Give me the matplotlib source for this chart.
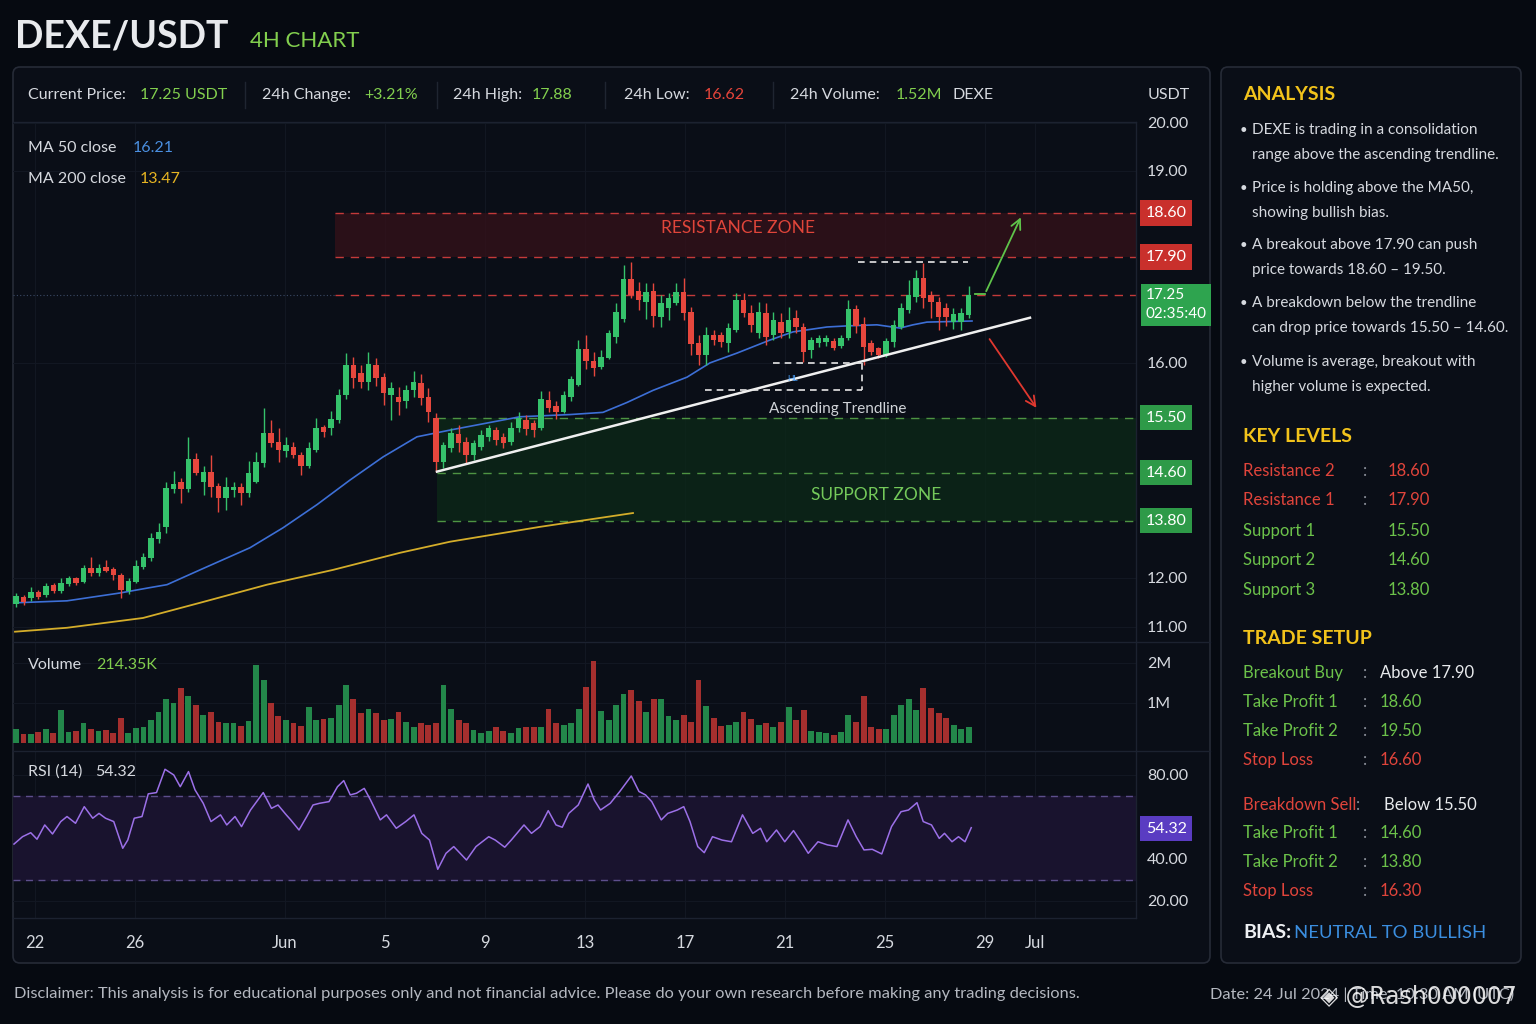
import numpy as np
import matplotlib
matplotlib.use("Agg")
import matplotlib.pyplot as plt
from matplotlib.patches import FancyBboxPatch
from matplotlib.lines import Line2D
from matplotlib.ticker import FixedLocator, NullLocator, FuncFormatter

plt.rcParams['font.family'] = ['Lato', 'DejaVu Sans']

# ------------------------------------------------------------------ data
# OHLC of the 4H candles
opens = [11.47, 11.61, 11.59, 11.71, 11.65, 11.86, 11.73, 11.88, 12.00, 11.92,
         12.32, 12.16, 12.35, 12.28, 12.10, 11.73, 11.92, 12.35, 12.63, 13.23,
         13.61, 14.33, 14.45, 14.33, 14.83, 14.45, 14.62, 14.38, 14.18, 14.32,
         14.37, 14.27, 14.45, 14.76, 15.25, 15.11, 14.96, 15.03, 14.89, 14.71,
         14.98, 15.35, 15.34, 15.47, 15.71, 15.98, 15.91, 15.83, 15.98, 15.87,
         15.71, 15.69, 15.65, 15.75, 15.82, 15.69, 15.50, 14.78, 15.01, 15.24,
         15.11, 14.89, 15.03, 15.19, 15.30, 15.19, 15.11, 15.34, 15.47, 15.42,
         15.34, 15.66, 15.61, 15.55, 15.69, 15.80, 16.26, 16.04, 15.96, 16.09,
         16.48, 16.81, 17.52, 17.32, 17.12, 17.32, 16.85, 17.01, 17.10, 17.30,
         16.94, 16.37, 16.15, 16.51, 16.51, 16.37, 16.61, 17.16, 16.92, 16.55,
         16.92, 16.51, 16.75, 16.57, 16.83, 16.66, 16.24, 16.37, 16.38, 16.40,
         16.31, 16.46, 16.99, 16.72, 16.37, 16.28, 16.15, 16.39, 16.66, 16.97,
         17.21, 17.54, 17.25, 17.12, 17.01, 16.75, 16.75, 16.88]
highs = [11.69, 11.65, 11.82, 11.76, 11.90, 11.90, 12.00, 12.06, 12.03, 12.41,
         12.66, 12.44, 12.57, 12.35, 12.16, 12.00, 12.57, 12.79, 13.42, 13.74,
         14.45, 14.63, 14.52, 15.19, 14.93, 14.71, 14.89, 14.43, 14.53, 14.45,
         14.43, 14.80, 14.94, 15.59, 15.47, 15.34, 15.19, 15.11, 14.94, 15.11,
         15.50, 15.39, 15.56, 15.76, 16.18, 16.11, 15.98, 16.20, 16.09, 15.91,
         15.83, 15.78, 15.80, 15.93, 15.90, 15.77, 15.54, 15.11, 15.34, 15.39,
         15.19, 15.14, 15.30, 15.39, 15.35, 15.25, 15.43, 15.55, 15.53, 15.47,
         15.74, 15.74, 15.65, 15.74, 15.88, 16.42, 16.51, 16.20, 16.24, 16.61,
         17.10, 17.76, 17.81, 17.47, 17.45, 17.45, 17.25, 17.28, 17.45, 17.54,
         17.03, 16.51, 16.66, 16.61, 16.57, 16.74, 17.28, 17.28, 17.07, 17.12,
         17.10, 16.94, 16.92, 17.03, 16.97, 16.74, 16.48, 16.51, 16.51, 16.46,
         16.51, 17.16, 17.07, 16.85, 16.42, 16.29, 16.46, 16.79, 17.10, 17.51,
         17.68, 17.80, 17.32, 17.21, 17.10, 17.01, 17.01, 17.40]
lows = [11.41, 11.45, 11.53, 11.57, 11.61, 11.69, 11.69, 11.84, 11.86, 11.90,
        12.06, 12.06, 12.19, 11.96, 11.59, 11.67, 11.90, 12.28, 12.54, 13.11,
        13.42, 14.27, 14.10, 14.28, 14.57, 14.23, 14.20, 13.95, 13.98, 14.20,
        14.07, 14.20, 14.43, 14.70, 15.03, 14.78, 14.86, 14.85, 14.57, 14.68,
        14.94, 15.19, 15.22, 15.42, 15.67, 15.77, 15.77, 15.75, 15.79, 15.62,
        15.47, 15.53, 15.59, 15.69, 15.62, 15.43, 14.62, 14.68, 14.94, 14.94,
        14.76, 14.81, 14.98, 15.12, 15.06, 15.01, 15.06, 15.27, 15.22, 15.19,
        15.30, 15.55, 15.48, 15.54, 15.65, 15.79, 15.94, 15.88, 15.94, 16.08,
        16.37, 16.75, 17.19, 16.97, 16.81, 16.66, 16.66, 16.79, 17.07, 16.79,
        16.15, 15.98, 15.98, 16.33, 16.29, 16.20, 16.57, 16.85, 16.57, 16.46,
        16.33, 16.42, 16.46, 16.46, 16.55, 16.02, 16.09, 16.29, 16.31, 16.24,
        16.28, 16.42, 16.55, 15.98, 16.15, 16.09, 16.11, 16.29, 16.63, 16.92,
        17.12, 17.01, 16.83, 16.61, 16.68, 16.63, 16.61, 16.83]
closes = [11.63, 11.51, 11.71, 11.61, 11.84, 11.73, 11.90, 12.00, 11.90, 12.32,
          12.16, 12.32, 12.22, 12.10, 11.76, 11.94, 12.38, 12.66, 13.26, 13.45,
          14.35, 14.42, 14.33, 14.83, 14.60, 14.62, 14.37, 14.18, 14.37, 14.37,
          14.27, 14.60, 14.78, 15.25, 15.09, 14.98, 15.06, 14.89, 14.71, 15.01,
          15.34, 15.27, 15.48, 15.71, 15.98, 15.86, 15.83, 15.99, 15.86, 15.73,
          15.77, 15.64, 15.75, 15.83, 15.68, 15.55, 14.78, 15.06, 15.25, 15.09,
          14.89, 15.09, 15.22, 15.34, 15.14, 15.09, 15.34, 15.50, 15.32, 15.30,
          15.67, 15.59, 15.55, 15.71, 15.85, 16.26, 16.04, 15.95, 16.11, 16.55,
          16.94, 17.52, 17.25, 17.16, 17.30, 16.86, 17.10, 17.19, 17.30, 16.92,
          16.35, 16.15, 16.51, 16.42, 16.39, 16.64, 17.16, 16.92, 16.70, 16.94,
          16.48, 16.79, 16.55, 16.79, 16.66, 16.20, 16.42, 16.46, 16.46, 16.28,
          16.46, 16.99, 16.68, 16.29, 16.20, 16.15, 16.40, 16.70, 17.01, 17.25,
          17.54, 17.19, 17.12, 16.85, 16.85, 16.90, 16.92, 17.25]
# volume per candle, millions of DEXE
volumes_m = [0.34, 0.23, 0.23, 0.28, 0.34, 0.26, 0.83, 0.28, 0.31, 0.51,
             0.34, 0.31, 0.33, 0.26, 0.63, 0.26, 0.37, 0.39, 0.58, 0.78,
             1.11, 0.99, 1.37, 1.18, 0.95, 0.70, 0.77, 0.53, 0.49, 0.49,
             0.43, 0.56, 1.95, 1.58, 1.01, 0.68, 0.58, 0.51, 0.43, 0.89,
             0.58, 0.59, 0.62, 0.95, 1.45, 1.09, 0.74, 0.84, 0.74, 0.58,
             0.60, 0.78, 0.53, 0.39, 0.49, 0.45, 0.51, 1.45, 0.84, 0.58,
             0.49, 0.33, 0.26, 0.31, 0.39, 0.31, 0.26, 0.37, 0.39, 0.41,
             0.39, 0.85, 0.51, 0.45, 0.51, 0.84, 1.39, 2.06, 0.80, 0.58,
             0.95, 1.23, 1.33, 1.05, 0.78, 1.09, 1.09, 0.68, 0.58, 0.70,
             0.53, 1.58, 0.93, 0.62, 0.43, 0.45, 0.53, 0.78, 0.59, 0.45,
             0.51, 0.39, 0.53, 0.89, 0.58, 0.83, 0.31, 0.28, 0.24, 0.20,
             0.28, 0.70, 0.53, 1.18, 0.41, 0.34, 0.34, 0.70, 0.95, 1.09,
             0.83, 1.37, 0.87, 0.74, 0.62, 0.45, 0.34, 0.41]
first_candle_day = 21.24      # day numbering counted from 1 May (32 = 1 Jun)
candle_step_days = 0.30

ma50_days = [21.2, 23.28, 25.4, 26.6, 27.28, 28.6, 30.6, 31.92, 33.28, 34.6, 35.92,
             37.28, 38.6, 41.4, 43.4, 44.72, 45.68, 46.72, 48.08, 49.0, 50.08,
             51.4, 52.32, 53.68, 54.48, 55.68, 56.6, 57.12, 57.68, 59.48]
ma50_vals = [11.49, 11.53, 11.69, 11.80, 11.86, 12.25, 12.95, 13.58, 14.07, 14.48, 14.86,
             15.19, 15.30, 15.51, 15.53, 15.55, 15.64, 15.75, 15.87, 16.00, 16.18,
             16.42, 16.57, 16.66, 16.68, 16.70, 16.64, 16.70, 16.75, 16.77]
ma200_days = [21.2, 23.28, 26.32, 28.6, 31.28, 33.92, 36.6, 38.6, 42.2, 45.92]
ma200_vals = [10.90, 10.98, 11.18, 11.49, 11.86, 12.25, 12.79, 13.14, 13.61, 13.93]

rsi_days = [21.16, 21.50, 21.83, 22.08, 22.39, 22.70, 23.03, 23.28, 23.62, 23.97,
            24.31, 24.56, 24.82, 25.15, 25.51, 25.71, 25.97, 26.28, 26.53, 26.86,
            27.20, 27.55, 27.81, 28.14, 28.40, 28.73, 29.04, 29.42, 29.67, 30.00,
            30.26, 30.62, 31.13, 31.46, 31.72, 32.05, 32.23, 32.56, 32.87, 33.12,
            33.38, 33.76, 34.10, 34.35, 34.61, 34.86, 35.17, 35.42, 35.81, 36.06,
            36.45, 36.83, 37.16, 37.47, 37.78, 38.11, 38.44, 38.75, 39.26, 39.64,
            40.15, 40.41, 40.79, 41.05, 41.56, 41.86, 42.20, 42.53, 42.84, 43.09,
            43.35, 43.73, 44.12, 44.37, 44.62, 45.01, 45.39, 45.85, 46.16, 46.42,
            46.67, 47.05, 47.31, 47.69, 47.95, 48.20, 48.51, 48.77, 49.10, 49.48,
            49.86, 50.30, 50.71, 51.02, 51.27, 51.66, 51.99, 52.34, 52.68, 52.93,
            53.32, 53.70, 54.08, 54.52, 54.85, 55.16, 55.49, 55.87, 56.26, 56.64,
            56.94, 57.28, 57.53, 57.86, 58.17, 58.38, 58.68, 58.94, 59.20, 59.45]
rsi_vals = [47.1, 50.6, 52.5, 49.4, 56.2, 51.9, 57.8, 60.2, 57.0, 64.9,
            59.4, 61.7, 59.4, 57.8, 45.1, 49.0, 59.4, 60.2, 71.0, 71.6,
            82.7, 80.0, 74.4, 81.6, 72.9, 66.5, 57.8, 61.0, 56.2, 60.2,
            55.4, 63.3, 71.6, 64.1, 65.7, 61.0, 58.6, 53.8, 60.2, 65.7,
            66.5, 67.3, 74.4, 77.3, 70.5, 71.3, 73.6, 68.1, 58.6, 61.0,
            54.6, 57.8, 61.0, 52.2, 49.0, 35.1, 42.7, 45.9, 39.5, 45.9,
            50.6, 49.0, 45.6, 49.0, 56.2, 52.2, 55.4, 63.0, 56.2, 55.1,
            61.7, 65.7, 75.7, 68.1, 63.3, 66.5, 72.1, 79.5, 72.1, 70.5,
            67.3, 58.6, 61.7, 63.3, 64.9, 57.8, 45.9, 43.0, 50.6, 49.0,
            48.2, 61.0, 52.2, 54.6, 48.2, 53.8, 48.2, 53.5, 47.5, 42.7,
            48.2, 46.7, 45.9, 58.6, 50.6, 44.3, 44.6, 42.4, 55.4, 62.5,
            63.3, 66.8, 57.8, 56.2, 49.8, 52.2, 48.2, 50.6, 48.2, 54.9]

date_tick_days = [22, 26, 32, 36, 40, 44, 48, 52, 56, 60, 62]
date_tick_labels = ['22', '26', 'Jun', '5', '9', '13', '17', '21', '25', '29', 'Jul']

price_ticks = [20.0, 19.0, 16.0, 12.0, 11.0]
rsi_ticks = [20, 40, 80]
# the reference's price axis is not uniform: labelled prices and their rows
axis_prices = [5.0, 11.0, 12.0, 13.8, 14.6, 15.5, 16.0, 17.25, 17.9, 18.6, 19.0, 20.0, 30.0]
axis_rows = [921, 627, 578, 521, 473, 418, 363, 295, 257, 213, 171, 123, -357]

resistance_levels = [18.60, 17.90]
support_levels = [15.50, 14.60, 13.80]
current_price = 17.25
resistance_zone_start = 34.0
support_zone_start = 38.08
trend_days = [38.08, 61.8]
trend_prices = [14.62, 16.83]
range_top_days = [54.92, 59.32]
range_top_price = 17.81
range_low_days = [48.8, 55.08]
range_low_prices = [16.0, 15.75]
bull_path_days = [59.6, 60.0, 61.48]
bull_path_prices = [17.27, 17.27, 18.57]
bear_path_days = [60.12, 62.12]
bear_path_prices = [16.48, 15.57]
rsi_now = 54.32

# ------------------------------------------------------------------ style
W, H = 1536, 1024
BG = '#060a11'
PANEL = '#0a0e17'
EDGE = '#262b37'
TXT = '#d6d9df'
GREEN_T = '#82cf4e'
RED_T = '#e5443a'
UP = '#35c26b'
DOWN = '#e6473d'
GRID = '#121722'

fig = plt.figure(figsize=(W / 100, H / 100), dpi=100, facecolor=BG)


def T(px, py, s, color=TXT, size=11.5, weight='normal', ha='left', va='center', **kw):
    return fig.text(px / W, 1 - py / H, s, color=color, fontsize=size,
                    fontweight=weight, ha=ha, va=va, **kw)


def fline(x0, y0, x1, y1, color='#1c2230', lw=1.0):
    fig.add_artist(Line2D([x0 / W, x1 / W], [1 - y0 / H, 1 - y1 / H],
                          transform=fig.transFigure, color=color, lw=lw))


for (px0, px1) in [(13, 1210), (1221, 1521)]:
    p = FancyBboxPatch((px0 / 100, (H - 963) / 100), (px1 - px0) / 100, (963 - 67) / 100,
                       boxstyle='round,pad=0,rounding_size=0.07',
                       transform=fig.dpi_scale_trans, fc=PANEL, ec=EDGE, lw=1.2, zorder=-10)
    fig.add_artist(p)

L, R = 13, 1136


def add_ax(top, bottom):
    ax = fig.add_axes([L / W, 1 - bottom / H, (R - L) / W, (bottom - top) / H])
    ax.set_facecolor('none')
    for s in ax.spines.values():
        s.set_visible(False)
    return ax


ax = add_ax(122, 641)
axv = add_ax(643, 750)
axr = add_ax(751, 918)

xmin, xmax = 21.12, 66.04
for a in (ax, axv, axr):
    a.set_xlim(xmin, xmax)
    a.set_xticks(date_tick_days)
    a.grid(True, color=GRID, lw=0.8)
    a.tick_params(axis='both', length=0, labelcolor=TXT, labelsize=11.5)
    a.yaxis.tick_right()
    a.set_axisbelow(True)
ax.set_xticklabels([])
axv.set_xticklabels([])
axr.set_xticklabels(date_tick_labels)
axr.tick_params(axis='x', pad=12, labelsize=12)

# ---------------- price panel
fwd = lambda p: -np.interp(p, axis_prices, axis_rows)
inv = lambda v: np.interp(-np.asarray(v), axis_rows[::-1], axis_prices[::-1])
ax.set_yscale('function', functions=(fwd, inv))
ax.set_ylim(10.71, 20.02)
ax.yaxis.set_major_locator(FixedLocator(price_ticks))
ax.yaxis.set_minor_locator(NullLocator())
ax.yaxis.set_major_formatter(FuncFormatter(lambda v, _: f'{v:.2f}'))
ax.tick_params(axis='y', pad=8)

o = np.array(opens); h = np.array(highs); lo = np.array(lows); c = np.array(closes)
days = first_candle_day + candle_step_days * np.arange(len(o))
up = c >= o
cols = np.where(up, UP, DOWN)

# zones
ax.fill_between([resistance_zone_start, xmax], resistance_levels[1], resistance_levels[0],
                color='#351119', alpha=0.75, lw=0, zorder=1)
ax.fill_between([support_zone_start, xmax], support_levels[2], support_levels[0],
                color='#0c2a18', alpha=0.72, lw=0, zorder=1)
for lvl in resistance_levels:
    ax.plot([resistance_zone_start, xmax], [lvl, lvl], color='#c43a3a', lw=1.0,
            ls=(0, (6, 5)), zorder=2)
ax.plot([resistance_zone_start, xmax], [current_price] * 2, color='#c43a3a', lw=1.0,
        ls=(0, (6, 5)), zorder=2)
ax.plot([xmin, resistance_zone_start], [current_price] * 2, color='#3b4a66', lw=0.8,
        ls=(0, (1, 2)), zorder=2)
for lvl in support_levels:
    ax.plot([support_zone_start, xmax], [lvl, lvl], color='#4e9443', lw=1.0,
            ls=(0, (6, 5)), zorder=2)

# moving averages
ax.plot(ma200_days, ma200_vals, color='#d4ad2a', lw=1.3, zorder=3)
ax.plot(ma50_days, ma50_vals, color='#3d6fd6', lw=1.2, zorder=3)

# candles
ax.vlines(days, lo, h, colors=cols, lw=1.0, zorder=4)
ax.bar(days, np.maximum(np.abs(c - o), 0.02), bottom=np.minimum(o, c), width=0.22,
       color=cols, zorder=5, lw=0)

# trendline & annotations
ax.plot(trend_days, trend_prices, color='#f0f0f0', lw=1.8, zorder=6)
dash = dict(color='#e6e6e6', lw=1.2, ls=(0, (4, 3)), zorder=6)
ax.plot(range_top_days, [range_top_price] * 2, **dash)
ax.plot([range_low_days[0] + 2.7, range_low_days[1]], [range_low_prices[0]] * 2, **dash)
ax.plot(range_low_days, [range_low_prices[1]] * 2, **dash)
ax.plot([range_low_days[1]] * 2, range_low_prices, **dash)
ax.text(52.32, 15.86, 'HL', color='#4aa3ff', fontsize=6, ha='center', va='center', zorder=7)
ax.text(54.12, 15.58, 'Ascending Trendline', color='#d0d3d8', fontsize=11,
        ha='center', va='center', zorder=7)
ax.text(50.12, 18.36, 'RESISTANCE ZONE', color='#e0453a', fontsize=12.5,
        ha='center', va='center', zorder=7)
ax.text(55.64, 14.23, 'SUPPORT ZONE', color='#74c95a', fontsize=12.5,
        ha='center', va='center', zorder=7)
ax.plot(bull_path_days[:2], bull_path_prices[:2], color='#5fc44a', lw=1.3, zorder=6)
ax.annotate('', xy=(bull_path_days[2], bull_path_prices[2]),
            xytext=(bull_path_days[1], bull_path_prices[1]),
            arrowprops=dict(arrowstyle='->,head_length=0.7,head_width=0.35',
                            color='#5fc44a', lw=1.3), zorder=6)
ax.annotate('', xy=(bear_path_days[1], bear_path_prices[1]),
            xytext=(bear_path_days[0], bear_path_prices[0]),
            arrowprops=dict(arrowstyle='->,head_length=0.7,head_width=0.35',
                            color='#e0382f', lw=1.3), zorder=6)

# level boxes on the axis
ytr = ax.get_yaxis_transform()
for lvl in resistance_levels:
    ax.annotate(f'{lvl:.2f}', xy=(1, lvl), xycoords=ytr, xytext=(7, 0),
                textcoords='offset points', ha='left', va='center', color='white',
                fontsize=11.5, annotation_clip=False,
                bbox=dict(boxstyle='square,pad=0.35', fc='#c9302c', ec='none'))
for lvl in support_levels:
    ax.annotate(f'{lvl:.2f}', xy=(1, lvl), xycoords=ytr, xytext=(7, 0),
                textcoords='offset points', ha='left', va='center', color='white',
                fontsize=11.5, annotation_clip=False,
                bbox=dict(boxstyle='square,pad=0.35', fc='#2e9a48', ec='none'))
ax.annotate(f'{current_price:.2f}\n02:35:40', xy=(1, current_price), xycoords=ytr,
            xytext=(7, -7), textcoords='offset points', ha='left', va='center',
            color='white', fontsize=11, linespacing=1.45, annotation_clip=False,
            bbox=dict(boxstyle='square,pad=0.3', fc='#2ea44f', ec='none'))

# ---------------- volume panel
axv.set_ylim(-0.175, 2.5)
axv.set_yticks([1, 2])
axv.set_yticklabels(['1M', '2M'])
axv.tick_params(axis='y', pad=8)
vcols = np.where(up, '#23874a', '#a52f2e')
axv.bar(days, volumes_m, width=0.24, color=vcols, lw=0, zorder=3)

# ---------------- RSI panel
axr.set_ylim(11.9, 91.4)
axr.set_yticks(rsi_ticks)
axr.yaxis.set_major_formatter(FuncFormatter(lambda v, _: f'{v:.2f}'))
axr.tick_params(axis='y', pad=8)
axr.axhline(60, color=GRID, lw=0.8, zorder=0)
axr.axhspan(30, 70, color='#19132e', zorder=1)
for lv in (30, 70):
    axr.axhline(lv, color='#5d4f8c', lw=1.0, ls=(0, (5, 4)), zorder=2)
axr.plot(rsi_days, rsi_vals, color='#9c70e8', lw=1.1, zorder=3)
axr.annotate(f'{rsi_now:.2f}', xy=(1, rsi_now), xycoords=axr.get_yaxis_transform(),
             xytext=(7, 0), textcoords='offset points', ha='left', va='center',
             color='white', fontsize=11.5, annotation_clip=False, zorder=10,
             bbox=dict(boxstyle='square,pad=0.35', fc='#5a3cc2', ec='none'))

# ---------------- separators
fline(13, 122, 1136, 122)
fline(13, 642, 1210, 642)
fline(13, 751, 1210, 751)
fline(13, 918, 1136, 918)
fline(1136, 122, 1136, 918)
for sx in (245, 437, 605, 773):
    fline(sx, 82, sx, 108, color='#1f2531')

# ---------------- header texts
T(15, 36, 'DEXE/USDT', color='#e8eaed', size=27, weight='bold')
T(250, 41, '4H CHART', color=GREEN_T, size=16)
T(28, 95, 'Current Price:', size=11.5)
T(140, 95, '17.25 USDT', color=GREEN_T, size=11.5)
T(262, 95, '24h Change:', size=11.5)
T(364, 95, '+3.21%', color=GREEN_T, size=11.5)
T(453, 95, '24h High:', size=11.5)
T(532, 95, '17.88', color=GREEN_T, size=11.5)
T(624, 95, '24h Low:', size=11.5)
T(704, 95, '16.62', color=RED_T, size=11.5)
T(790, 95, '24h Volume:', size=11.5)
T(896, 95, '1.52M', color=GREEN_T, size=11.5)
T(952, 95, 'DEXE', size=11.5)
T(1148, 95, 'USDT', size=11.5)
T(28, 148, 'MA 50 close', size=11.5)
T(133, 148, '16.21', color='#4a8fe0', size=11.5)
T(28, 179, 'MA 200 close', size=11.5)
T(140, 179, '13.47', color='#e6b422', size=11.5)
T(28, 665, 'Volume', size=11.5)
T(96, 665, '214.35K', color=GREEN_T, size=11.5)
T(28, 772, 'RSI (14)', size=11.5)
T(95, 772, '54.32', size=11.5)

# ---------------- right panel
YEL = '#f2c31b'
GR = '#6cc24a'
RD = '#e0443b'
COL = '#8a8f99'
T(1243, 94, 'ANALYSIS', color=YEL, size=14, weight='bold')
bullets = [
    ('DEXE is trading in a consolidation', 'range above the ascending trendline.', 130),
    ('Price is holding above the MA50,', 'showing bullish bias.', 188),
    ('A breakout above 17.90 can push', 'price towards 18.60 \u2013 19.50.', 245),
    ('A breakdown below the trendline', 'can drop price towards 15.50 \u2013 14.60.', 303),
    ('Volume is average, breakout with', 'higher volume is expected.', 362),
]
for l1, l2, yy in bullets:
    T(1240, yy, '\u2022', size=9.5)
    T(1252, yy, l1, size=11)
    T(1252, yy + 25, l2, size=11)

T(1243, 437, 'KEY LEVELS', color=YEL, size=14, weight='bold')
key_rows = [('Resistance 2', ':', '18.60', RD, 471), ('Resistance 1', ':', '17.90', RD, 500),
            ('Support 1', '', '15.50', GR, 531), ('Support 2', '', '14.60', GR, 560),
            ('Support 3', '', '13.80', GR, 590)]
for lab, colon, val, cc, yy in key_rows:
    T(1243, yy, lab, color=cc, size=12)
    if colon:
        T(1363, yy, colon, color=COL, size=12)
    T(1388, yy, val, color=cc, size=12)

T(1243, 639, 'TRADE SETUP', color=YEL, size=14, weight='bold')
trade_rows = [('Breakout Buy', 'Above 17.90', GR, '#e8eaed', 673),
              ('Take Profit 1', '18.60', GR, GR, 702),
              ('Take Profit 2', '19.50', GR, GR, 731),
              ('Stop Loss', '16.60', RD, RD, 760),
              ('Take Profit 1', '14.60', GR, GR, 833),
              ('Take Profit 2', '13.80', GR, GR, 862),
              ('Stop Loss', '16.30', RD, RD, 891)]
for lab, val, c1, c2, yy in trade_rows:
    T(1243, yy, lab, color=c1, size=12)
    T(1363, yy, ':', color=COL, size=12)
    T(1380, yy, val, color=c2, size=12)
T(1243, 805, 'Breakdown Sell', color=RD, size=12)
T(1356, 805, ':', color=COL, size=12)
T(1384, 805, 'Below 15.50', color='#e8eaed', size=12)
T(1243, 933, 'BIAS:', color='#eef0f3', size=14, weight='bold')
T(1294, 933, 'NEUTRAL TO BULLISH', color='#3b8ee0', size=13.3)

# ---------------- footer
T(14, 994, 'Disclaimer: This analysis is for educational purposes only and not financial '
           'advice. Please do your own research before making any trading decisions.',
  color='#b4b8c0', size=11.8)
T(1210, 994, 'Date: 24 Jul 2024 | Time: 10:30 AM (UTC)', color='#b4b8c0', size=11.8)
T(1320, 997, '\u25c8 @Rash000007', color='#ffffff', size=17, alpha=0.85,
  family=['DejaVu Sans'])

fig.savefig('out.png', dpi=100, facecolor=BG)
